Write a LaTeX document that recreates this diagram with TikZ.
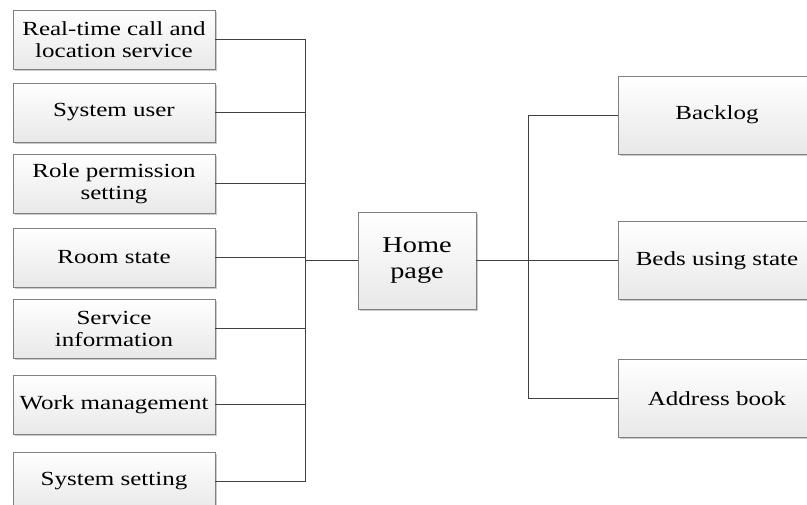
\documentclass[tikz,border=0pt]{standalone}
\usepackage{fontspec}
\setmainfont{Liberation Serif}[FakeStretch=1.25]
\usepackage{tikz}
\usetikzlibrary{positioning,shadows}

\begin{document}
\begin{tikzpicture}[x=0.75pt, y=-0.75pt,
  font=\fontsize{15}{16.5}\selectfont,
  box/.style={draw=black!50, line width=0.6pt, top color=white, bottom color=black!9,
    align=center, inner sep=0pt, drop shadow={shadow xshift=1.2pt, shadow yshift=-1.2pt, fill=black!35, opacity=0.6}},
  lbox/.style={box, minimum width=151.5pt, minimum height=44.25pt},
  rbox/.style={box, minimum width=148.5pt, minimum height=58.5pt},
  link/.style={draw=black!75, line width=0.6pt}
]
  \useasboundingbox (0,0) rectangle (807,504);
  % left column
  \node[lbox] (call) at (114,39.5) {Real-time call and\\location service};
  \node[lbox] (user) at (114,112.5) {System user};
  \node[lbox] (role) at (114,183.5) {Role permission\\setting};
  \node[lbox] (room) at (114,257.5) {Room state};
  \node[lbox] (serv) at (114,328.5) {Service\\information};
  \node[lbox] (work) at (114,404.5) {Work management};
  \node[lbox] (sset) at (114,481.5) {System setting};
  % centre
  \node[box, minimum width=88.5pt, minimum height=72.75pt, font=\fontsize{17}{19}\selectfont] (home) at (417,260.5) {Home\\page};
  % right column
  \node[rbox] (back) at (717,115) {Backlog};
  \node[rbox] (beds) at (717,260.5) {Beds using state};
  \node[rbox] (addr) at (717,398.5) {Address book};
  \coordinate (lbus) at (305,260.5);
  \coordinate (rbus) at (528,260.5);
  \foreach \n in {call,user,role,room,serv,work,sset}
    \draw[link] (\n.east) -| (lbus);
  \draw[link] (lbus) -- (home.west);
  \draw[link] (home.east) -- (rbus);
  \foreach \n in {back,beds,addr}
    \draw[link] (rbus) |- (\n.west);
\end{tikzpicture}
\end{document}
